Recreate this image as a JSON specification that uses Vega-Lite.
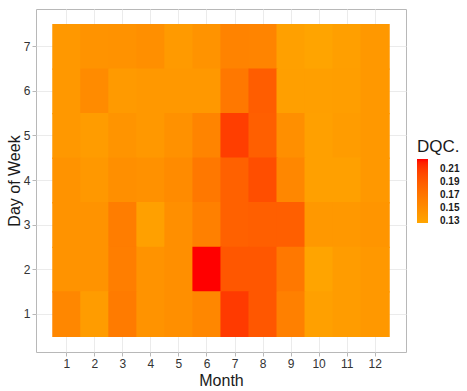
{
  "$schema": "https://vega.github.io/schema/vega-lite/v6.json",
  "width": 370,
  "height": 343,
  "autosize": {"type": "none"},
  "padding": {"left": 36, "top": 9, "right": 61, "bottom": 39},
  "background": "white",
  "config": {
    "view": {"stroke": "#B8B8B8", "strokeWidth": 1},
    "font": "Liberation Sans"
  },
  "data": {
    "values": [
      {"Month": 1, "Day": 7, "DQC": 0.140}, {"Month": 2, "Day": 7, "DQC": 0.144}, {"Month": 3, "Day": 7, "DQC": 0.145}, {"Month": 4, "Day": 7, "DQC": 0.148}, {"Month": 5, "Day": 7, "DQC": 0.138}, {"Month": 6, "Day": 7, "DQC": 0.144}, {"Month": 7, "Day": 7, "DQC": 0.159}, {"Month": 8, "Day": 7, "DQC": 0.158}, {"Month": 9, "Day": 7, "DQC": 0.132}, {"Month": 10, "Day": 7, "DQC": 0.128}, {"Month": 11, "Day": 7, "DQC": 0.133}, {"Month": 12, "Day": 7, "DQC": 0.140},
      {"Month": 1, "Day": 6, "DQC": 0.140}, {"Month": 2, "Day": 6, "DQC": 0.152}, {"Month": 3, "Day": 6, "DQC": 0.138}, {"Month": 4, "Day": 6, "DQC": 0.140}, {"Month": 5, "Day": 6, "DQC": 0.140}, {"Month": 6, "Day": 6, "DQC": 0.140}, {"Month": 7, "Day": 6, "DQC": 0.168}, {"Month": 8, "Day": 6, "DQC": 0.189}, {"Month": 9, "Day": 6, "DQC": 0.133}, {"Month": 10, "Day": 6, "DQC": 0.133}, {"Month": 11, "Day": 6, "DQC": 0.134}, {"Month": 12, "Day": 6, "DQC": 0.140},
      {"Month": 1, "Day": 5, "DQC": 0.140}, {"Month": 2, "Day": 5, "DQC": 0.136}, {"Month": 3, "Day": 5, "DQC": 0.143}, {"Month": 4, "Day": 5, "DQC": 0.140}, {"Month": 5, "Day": 5, "DQC": 0.146}, {"Month": 6, "Day": 5, "DQC": 0.158}, {"Month": 7, "Day": 5, "DQC": 0.208}, {"Month": 8, "Day": 5, "DQC": 0.188}, {"Month": 9, "Day": 5, "DQC": 0.148}, {"Month": 10, "Day": 5, "DQC": 0.132}, {"Month": 11, "Day": 5, "DQC": 0.136}, {"Month": 12, "Day": 5, "DQC": 0.140},
      {"Month": 1, "Day": 4, "DQC": 0.144}, {"Month": 2, "Day": 4, "DQC": 0.140}, {"Month": 3, "Day": 4, "DQC": 0.148}, {"Month": 4, "Day": 4, "DQC": 0.146}, {"Month": 5, "Day": 4, "DQC": 0.152}, {"Month": 6, "Day": 4, "DQC": 0.168}, {"Month": 7, "Day": 4, "DQC": 0.186}, {"Month": 8, "Day": 4, "DQC": 0.199}, {"Month": 9, "Day": 4, "DQC": 0.155}, {"Month": 10, "Day": 4, "DQC": 0.132}, {"Month": 11, "Day": 4, "DQC": 0.132}, {"Month": 12, "Day": 4, "DQC": 0.140},
      {"Month": 1, "Day": 3, "DQC": 0.144}, {"Month": 2, "Day": 3, "DQC": 0.144}, {"Month": 3, "Day": 3, "DQC": 0.164}, {"Month": 4, "Day": 3, "DQC": 0.132}, {"Month": 5, "Day": 3, "DQC": 0.148}, {"Month": 6, "Day": 3, "DQC": 0.161}, {"Month": 7, "Day": 3, "DQC": 0.186}, {"Month": 8, "Day": 3, "DQC": 0.188}, {"Month": 9, "Day": 3, "DQC": 0.188}, {"Month": 10, "Day": 3, "DQC": 0.140}, {"Month": 11, "Day": 3, "DQC": 0.140}, {"Month": 12, "Day": 3, "DQC": 0.142},
      {"Month": 1, "Day": 2, "DQC": 0.144}, {"Month": 2, "Day": 2, "DQC": 0.144}, {"Month": 3, "Day": 2, "DQC": 0.163}, {"Month": 4, "Day": 2, "DQC": 0.144}, {"Month": 5, "Day": 2, "DQC": 0.148}, {"Month": 6, "Day": 2, "DQC": 0.225}, {"Month": 7, "Day": 2, "DQC": 0.193}, {"Month": 8, "Day": 2, "DQC": 0.193}, {"Month": 9, "Day": 2, "DQC": 0.168}, {"Month": 10, "Day": 2, "DQC": 0.128}, {"Month": 11, "Day": 2, "DQC": 0.136}, {"Month": 12, "Day": 2, "DQC": 0.140},
      {"Month": 1, "Day": 1, "DQC": 0.155}, {"Month": 2, "Day": 1, "DQC": 0.136}, {"Month": 3, "Day": 1, "DQC": 0.166}, {"Month": 4, "Day": 1, "DQC": 0.144}, {"Month": 5, "Day": 1, "DQC": 0.148}, {"Month": 6, "Day": 1, "DQC": 0.155}, {"Month": 7, "Day": 1, "DQC": 0.210}, {"Month": 8, "Day": 1, "DQC": 0.193}, {"Month": 9, "Day": 1, "DQC": 0.161}, {"Month": 10, "Day": 1, "DQC": 0.132}, {"Month": 11, "Day": 1, "DQC": 0.136}, {"Month": 12, "Day": 1, "DQC": 0.140}
    ]
  },
  "mark": {"type": "rect", "strokeWidth": 0, "width": {"band": 1.04}, "height": {"band": 1.03}},
  "encoding": {
    "x": {
      "field": "Month", "type": "ordinal",
      "scale": {"paddingInner": 0, "paddingOuter": 0.6},
      "axis": {
        "zindex": 0,
        "title": "Month", "titleFontSize": 16, "titleFontWeight": "normal", "titleColor": "#1A1A1A", "titlePadding": 3,
        "labelAngle": 0, "labelFontSize": 12, "labelColor": "#333333", "labelPadding": 2,
        "tickColor": "#B8B8B8", "tickSize": 4, "domain": false,
        "grid": true, "gridColor": "#EBEBEB"
      }
    },
    "y": {
      "field": "Day", "type": "ordinal", "sort": "descending",
      "scale": {"paddingInner": 0, "paddingOuter": 0.35},
      "axis": {
        "zindex": 0,
        "title": "Day of Week", "titleFontSize": 16, "titleFontWeight": "normal", "titleColor": "#1A1A1A", "titlePadding": 1,
        "labelFontSize": 12, "labelColor": "#333333", "labelPadding": 2,
        "tickColor": "#B8B8B8", "tickSize": 4, "domain": false,
        "grid": true, "gridColor": "#EBEBEB"
      }
    },
    "color": {
      "field": "DQC", "type": "quantitative",
      "scale": {"domain": [0.127, 0.225], "range": ["#FFA500", "#FF0000"], "interpolate": "lab"},
      "legend": {
        "type": "gradient",
        "title": "DQC.", "titleFontSize": 17, "titleFontWeight": "normal", "titleColor": "#1A1A1A", "titlePadding": 3,
        "orient": "none", "legendX": 381, "legendY": 130,
        "gradientLength": 64, "gradientThickness": 11,
        "values": [0.13, 0.15, 0.17, 0.19, 0.21], "format": ".2f",
        "labelFontSize": 10, "labelFontWeight": "bold", "labelColor": "#1A1A1A", "labelOffset": 12
      }
    }
  }
}
